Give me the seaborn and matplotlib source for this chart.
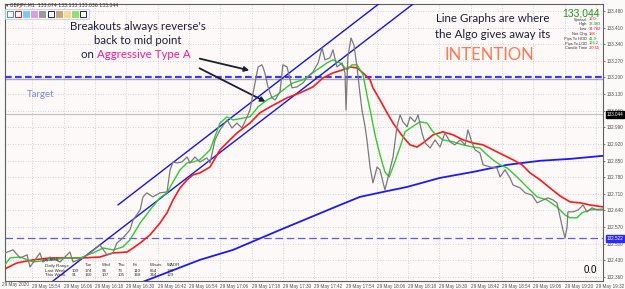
import numpy as np
import pandas as pd
import matplotlib
matplotlib.use("Agg")
import matplotlib.pyplot as plt
from matplotlib.patches import Rectangle
import seaborn as sns

# ---------------- data (bar index, price) ----------------
gray_x = [1.5, 4.6, 7.3, 10.0, 11.1, 14.9, 16.1, 18.8, 22.6, 26.4,
          27.6, 31.4, 34.1, 37.9, 40.6, 42.9, 44.4, 46.7, 49.4, 50.6,
          53.3, 54.4, 55.9, 58.2, 60.9, 63.6, 64.8, 65.9, 67.4, 69.3,
          71.3, 72.4, 74.3, 76.2, 78.9, 80.1, 82.0, 83.9, 86.6, 88.5,
          90.4, 92.3, 94.3, 95.4, 96.6, 98.5, 100.0, 101.1, 102.3, 103.8,
          105.0, 106.9, 108.0, 109.6, 111.5, 113.4, 115.7, 117.2, 119.5, 121.5,
          123.0, 124.1, 126.0, 127.2, 128.7, 130.7, 131.8, 132.2, 132.9, 134.1,
          135.2, 136.4, 137.5, 138.3, 139.5, 140.2, 141.4, 142.5, 144.1, 145.2,
          147.1, 149.0, 150.2, 151.7, 152.9, 154.0, 155.6, 156.7, 158.6, 159.8,
          161.3, 162.5, 164.4, 166.3, 168.2, 170.1, 172.0, 173.9, 175.9, 177.8,
          178.9, 180.5, 181.6, 183.5, 184.7, 187.4, 190.0, 191.2, 193.1, 195.0,
          196.2, 198.9, 200.8, 203.4, 205.4, 207.7, 209.6, 211.5, 213.0, 214.2,
          215.3, 216.1, 216.9, 217.2, 219.2, 221.1, 223.0, 224.5, 226.4, 228.4,
          230.7]
gray_y = [132.461, 132.474, 132.440, 132.453, 132.402, 132.461, 132.423, 132.444, 132.423, 132.465,
          132.423, 132.440, 132.461, 132.495, 132.453, 132.461, 132.503, 132.524, 132.558, 132.600,
          132.642, 132.697, 132.714, 132.697, 132.714, 132.718, 132.811, 132.844, 132.840, 132.844,
          132.865, 132.840, 132.865, 132.844, 132.861, 132.840, 132.937, 132.979, 133.021, 132.987,
          133.008, 132.987, 133.034, 133.063, 133.135, 133.244, 133.253, 133.219, 133.160, 133.114,
          133.105, 133.139, 133.253, 133.244, 133.156, 133.160, 133.177, 133.198, 133.223, 133.261,
          133.324, 133.274, 133.282, 133.316, 133.244, 133.261, 133.219, 133.063, 133.286, 133.366,
          133.337, 133.244, 133.135, 133.063, 132.992, 132.937, 132.823, 132.756, 132.823, 132.811,
          132.726, 132.811, 132.865, 132.992, 133.042, 133.013, 132.992, 133.034, 133.013, 133.042,
          132.966, 132.924, 132.903, 132.937, 132.907, 132.966, 132.929, 132.916, 132.937, 132.916,
          132.979, 132.924, 132.895, 132.882, 132.832, 132.823, 132.819, 132.781, 132.811, 132.777,
          132.747, 132.735, 132.714, 132.705, 132.672, 132.684, 132.693, 132.684, 132.672, 132.613,
          132.558, 132.524, 132.571, 132.634, 132.634, 132.642, 132.663, 132.634, 132.651, 132.642,
          132.642]

green_x = [1.5, 3.4, 7.3, 12.3, 18.8, 25.3, 30.3, 35.2, 39.1, 42.9,
           46.7, 49.4, 53.3, 57.1, 60.9, 63.6, 65.9, 68.6, 71.3, 73.6,
           76.2, 80.1, 83.9, 86.6, 88.9, 95.4, 98.5, 101.9, 105.7, 109.6,
           111.9, 115.7, 121.1, 124.9, 127.2, 129.9, 132.6, 134.5, 136.4, 138.7,
           140.2, 141.8, 143.3, 145.2, 147.1, 148.7, 150.2, 152.9, 154.8, 157.5,
           160.5, 163.2, 165.5, 169.3, 173.2, 177.0, 180.8, 183.5, 186.2, 188.5,
           191.2, 193.9, 197.7, 201.5, 205.4, 209.2, 213.0, 216.1, 218.0, 220.7,
           222.6, 225.7, 230.7]
green_y = [132.411, 132.440, 132.444, 132.423, 132.432, 132.440, 132.440, 132.461, 132.482, 132.474,
           132.486, 132.516, 132.587, 132.642, 132.693, 132.714, 132.760, 132.811, 132.840, 132.844,
           132.853, 132.895, 133.008, 133.034, 133.021, 133.034, 133.076, 133.105, 133.126, 133.160,
           133.177, 133.190, 133.232, 133.261, 133.274, 133.261, 133.232, 133.253, 133.253, 133.211,
           133.126, 133.042, 132.958, 132.874, 132.802, 132.781, 132.823, 132.907, 132.971, 132.992,
           133.013, 133.008, 132.971, 132.937, 132.929, 132.916, 132.907, 132.903, 132.874, 132.853,
           132.832, 132.819, 132.781, 132.739, 132.697, 132.684, 132.655, 132.621, 132.609, 132.609,
           132.630, 132.642, 132.646]

red_x = [1.5, 6.1, 12.3, 18.8, 31.4, 37.9, 42.9, 48.3, 50.6, 53.3,
         57.1, 60.9, 63.6, 65.9, 68.6, 71.3, 73.6, 76.2, 80.1, 83.9,
         87.7, 90.4, 95.4, 99.2, 103.1, 109.6, 114.6, 119.5, 123.4, 127.2,
         131.0, 133.7, 136.4, 138.7, 141.4, 142.5, 145.2, 147.9, 150.2, 154.0,
         156.7, 159.4, 161.7, 165.5, 169.3, 173.2, 177.0, 180.8, 184.7, 188.5,
         192.3, 196.2, 199.6, 202.7, 206.5, 210.3, 214.2, 218.0, 221.8, 225.7,
         230.7]
red_y = [132.394, 132.419, 132.432, 132.440, 132.440, 132.444, 132.461, 132.465, 132.482, 132.503,
         132.537, 132.587, 132.630, 132.684, 132.735, 132.769, 132.790, 132.798, 132.823, 132.895,
         132.937, 132.966, 133.008, 133.051, 133.076, 133.114, 133.135, 133.160, 133.198, 133.219,
         133.232, 133.244, 133.240, 133.219, 133.190, 133.156, 133.105, 133.051, 133.008, 132.950,
         132.916, 132.907, 132.924, 132.958, 132.971, 132.958, 132.937, 132.924, 132.916, 132.895,
         132.874, 132.853, 132.832, 132.798, 132.769, 132.735, 132.701, 132.676, 132.672, 132.663,
         132.655]

blue_x = [53.3, 76.2, 88.9, 106.9, 129.9, 137.5, 146.4, 155.6, 168.2, 180.8,
          193.9, 206.5, 218.0, 230.7]
blue_y = [132.335, 132.432, 132.474, 132.558, 132.663, 132.697, 132.718, 132.739, 132.777, 132.802,
          132.832, 132.849, 132.857, 132.870]

upper_x = [44.8, 146.0]
upper_y = [132.663, 133.520]
lower_x = [19.9, 160.0]
lower_y = [132.343, 133.527]

target_level = 133.200
target_shadow = 133.194
current_price = 133.044
low_level = 132.522

y_ticks = [132.360, 132.430, 132.500, 132.570, 132.640, 132.710, 132.780, 132.850,
           132.920, 132.990, 133.060, 133.130, 133.200, 133.270, 133.340, 133.410, 133.480]
x_ticks = [12, 24, 36, 48, 60, 72, 84, 96, 108, 120, 132, 144, 156, 168, 180, 192, 204, 216, 228]
x_labels = ["29 May 15:54", "29 May 16:06", "29 May 16:18", "29 May 16:30", "29 May 16:42",
            "29 May 16:54", "29 May 17:06", "29 May 17:18", "29 May 17:30", "29 May 17:42",
            "29 May 17:54", "29 May 18:06", "29 May 18:18", "29 May 18:30", "29 May 18:42",
            "29 May 18:54", "29 May 19:06", "29 May 19:20", "29 May 19:32"]

info_labels = ["Spread", "High", "Low", "Net Chg", "Pips To HOD", "Pips To LOD", "Candle Time"]
info_values = ["10.0", "33.483", "31.782", "158", "41.9", "126.2", "2:0:55"]
info_colors = ["#e8102a", "#1a9a1a", "#e8102a", "#e8102a", "#1a9a1a", "#1a9a1a", "#e8102a"]

table_cols = ["Daily Range", "Tue", "Wed", "Thu", "Fri", "Whurs", "WADR"]
table_last = ["Last Week", "109", "174", "96", "73", "110", "654", "140"]
table_this = ["This Week", "91", "160", "107", "105", "168", "344", "129"]

# ---------------- style ----------------
sns.set_style("white")
plt.rcParams['font.family'] = ['Liberation Sans', 'DejaVu Sans']

W, H = 625, 289
fig = plt.figure(figsize=(W / 100, H / 100), dpi=100, facecolor="#fcf9f9")

def fx(x):
    return x / W

def fy(y):
    return 1 - y / H

ax = fig.add_axes([fx(5), fy(281), fx(603) - fx(5), fy(4) - fy(281)])
ax.set_facecolor("#fdf9f9")

df_gray = pd.DataFrame({"x": gray_x, "y": gray_y})
df_green = pd.DataFrame({"x": green_x, "y": green_y})
df_red = pd.DataFrame({"x": red_x, "y": red_y})
df_blue = pd.DataFrame({"x": blue_x, "y": blue_y})

# horizontal levels
ax.axhline(current_price, color="#c4c4c4", lw=0.9, zorder=1)
ax.axhline(target_shadow, color="#a8a8a8", lw=1.0, zorder=2)
ax.axhline(target_level, color="#3a3aff", lw=1.6, ls=(0, (3, 1.5)), zorder=3)
ax.axhline(low_level, color="#5a5aff", lw=0.9, ls=(0, (6, 3)), zorder=3)

# trend channel
sns.lineplot(x=upper_x, y=upper_y, ax=ax, color="#1515e6", lw=1.0, zorder=4)
sns.lineplot(x=lower_x, y=lower_y, ax=ax, color="#1515e6", lw=1.0, zorder=4)

sns.lineplot(data=df_blue, x="x", y="y", ax=ax, color="#1a1aff", lw=1.3, sort=False, zorder=5)
sns.lineplot(data=df_red, x="x", y="y", ax=ax, color="#ff1a1a", lw=1.2, sort=False, zorder=6)
sns.lineplot(data=df_green, x="x", y="y", ax=ax, color="#2ecc2e", lw=1.0, sort=False, zorder=7)
sns.lineplot(data=df_gray, x="x", y="y", ax=ax, color="#7a7a7a", lw=0.9, sort=False, zorder=8)

ax.set_xlim(1.53, 230.65)
ax.set_ylim(132.343, 133.509)
ax.set_xlabel("")
ax.set_ylabel("")

tick_fs = 3.3
ax.yaxis.tick_right()
ax.set_yticks(y_ticks)
ax.set_yticklabels([f"{v:.3f}" for v in y_ticks], fontsize=tick_fs, color="#505050")
ax.set_xticks(x_ticks)
ax.set_xticklabels(x_labels, fontsize=tick_fs, color="#505050", ha="left")
ax.tick_params(axis="y", length=1.5, pad=1.2, width=0.5, colors="#505050")
ax.tick_params(axis="x", length=1.5, pad=0.8, width=0.5, colors="#505050")
ax.grid(True, linestyle=(0, (1, 2)), color="#c8c8c8", lw=0.6)
for s in ax.spines.values():
    s.set_color("#606060")
    s.set_linewidth(0.8)

fig.text(fx(2), fy(284.5), "29 May 2020", fontsize=tick_fs, color="#505050", ha="left", va="center")

# price boxes on the axis
ax.text(1.006, current_price, "133.044", transform=ax.get_yaxis_transform(), fontsize=tick_fs,
        color="white", va="center", ha="left",
        bbox=dict(boxstyle="square,pad=0.2", fc="black", ec="black"))
ax.text(1.006, low_level, "132.522", transform=ax.get_yaxis_transform(), fontsize=tick_fs,
        color="white", va="center", ha="left",
        bbox=dict(boxstyle="square,pad=0.2", fc="#2a2aff", ec="#2a2aff"))

# annotations
navy = "#1c1f3a"
ann_font = ["Lato", "DejaVu Sans"]
fig.text(fx(138), fy(27), "Breakouts always reverse's", fontsize=8.3, color=navy,
         ha="center", va="center", family=ann_font)
fig.text(fx(138), fy(41), "back to mid point", fontsize=8.3, color=navy,
         ha="center", va="center", family=ann_font)
fig.text(fx(97), fy(55), "on ", fontsize=8.3, color=navy, ha="right", va="center", family=ann_font)
fig.text(fx(97), fy(55), "Aggressive Type A", fontsize=8.3, color="#ff1a8c",
         ha="left", va="center", family=ann_font)

fig.text(fx(493), fy(18), "Line Graphs are where", fontsize=8.3, color=navy,
         ha="center", va="center", family=ann_font)
fig.text(fx(493), fy(35), "the Algo gives away its", fontsize=8.3, color=navy,
         ha="center", va="center", family=ann_font)
fig.text(fx(489), fy(55), "INTENTION", fontsize=12, color="#ff7a50",
         ha="center", va="center", family=ann_font)

fig.text(fx(27), fy(95), "Target", fontsize=7, color="#7b8ce0", ha="left", va="center",
         family=ann_font)

fig.text(fx(584), fy(270), "0.0", fontsize=7, color="black", ha="left", va="center")

for (x0, y0, x1, y1) in [(197, 58, 252, 71), (197, 67, 268, 103)]:
    ax.annotate("", xy=(x1, H - y1), xytext=(x0, H - y0), xycoords="figure pixels",
                textcoords="figure pixels",
                arrowprops=dict(arrowstyle="-|>", color="#1a2030", lw=1.3, mutation_scale=7))

# header
fig.text(fx(6), fy(5), "▾ GBPJPY,M1  133.074 133.133 133.036 133.044", fontsize=3.3,
         color="#303030", ha="left", va="center", family=["DejaVu Sans"])

# toolbar squares
fig.add_artist(Rectangle((fx(5), fy(18.5)), fx(89) - fx(5), fy(9) - fy(18.5),
                         transform=fig.transFigure, fc="#f4f4f4", ec="#c8c8c8", lw=0.5))
tb = [("white", "#3399ff"), ("white", "#e02020"), ("#80c8ff", "#80c8ff"), ("#d8a0e0", "#d8a0e0"),
      ("#9a9a9a", "#9a9a9a"), ("white", "#202080"), ("#c8a878", "#c8a878"), ("#f0dca0", "#f0dca0"),
      ("#90e070", "#90e070"), ("white", "#202080")]
for i, (fc, ec) in enumerate(tb):
    x0 = 7 + i * 8.1
    fig.add_artist(Rectangle((fx(x0), fy(17)), fx(6), fy(11) - fy(17), transform=fig.transFigure,
                             fc=fc, ec=ec, lw=0.7))

# info panel
fig.text(fx(600), fy(13), "133,044", fontsize=7.5, color="#1a9a1a", ha="right", va="center")
for i, (lab, val, col) in enumerate(zip(info_labels, info_values, info_colors)):
    yy = 19.5 + i * 4.8
    fig.text(fx(587), fy(yy), lab, fontsize=2.9, color="#303030", ha="right", va="center")
    fig.text(fx(589), fy(yy), val, fontsize=2.9, color=col, ha="left", va="center")

# small table bottom-left
fig.text(fx(43), fy(260), "Hy ADR", fontsize=3.2, color="#303030", ha="left", va="center")
col_x = [45, 85, 102, 118, 133, 150, 167]
for cx, t in zip(col_x, table_cols):
    fig.text(fx(cx), fy(265.5), t, fontsize=3.2, color="#303030", ha="left", va="center")
row_x = [45, 72, 85, 102, 118, 134, 150, 167]
for rx, t in zip(row_x, table_last):
    fig.text(fx(rx), fy(270.5), t, fontsize=3.2, color="#303030", ha="left", va="center")
for rx, t in zip(row_x, table_this):
    fig.text(fx(rx), fy(275), t, fontsize=3.2, color="#303030", ha="left", va="center")

fig.savefig("out.png", dpi=100, facecolor=fig.get_facecolor())
